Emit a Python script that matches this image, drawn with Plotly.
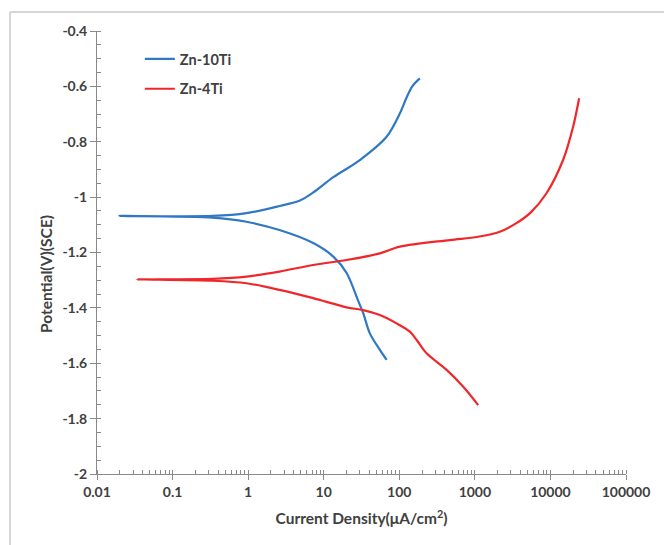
import plotly.graph_objects as go

# ---- data ----
zn10_current = [68, 55.4, 40.8, 33.3, 28.6, 20.1, 13.4, 7.26, 2.6, 0.95, 0.34, 0.0197,
                0.34, 0.95, 2.6, 4.84, 7.2, 13.4, 30.1, 67.9, 102, 125, 150, 187]
zn10_potential = [-1.588, -1.552, -1.492, -1.419, -1.375, -1.274, -1.215, -1.166, -1.119, -1.089, -1.074, -1.068,
                  -1.068, -1.058, -1.032, -1.012, -0.984, -0.928, -0.866, -0.782, -0.697, -0.640, -0.598, -0.571]

zn4_current = [1107, 702, 423, 230, 170, 138, 92, 55.4, 33.3, 20.1, 7.26, 2.6, 0.95, 0.34, 0.0335,
               0.34, 0.95, 2.6, 7.26, 20.1, 55.4, 102, 467, 1100, 2138, 3500, 5500, 8870, 14700, 19960, 23980]
zn4_potential = [-1.751, -1.685, -1.624, -1.564, -1.516, -1.486, -1.456, -1.426, -1.408, -1.398, -1.365, -1.335, -1.311, -1.302, -1.297,
                 -1.295, -1.287, -1.269, -1.245, -1.227, -1.203, -1.179, -1.155, -1.143, -1.125, -1.095, -1.055, -0.986, -0.866, -0.746, -0.643]

series_names = ["Zn-10Ti", "Zn-4Ti"]
series_colors = ["#2F78C4", "#F0272A"]

x_tickvals = [0.01, 0.1, 1, 10, 100, 1000, 10000, 100000]
x_ticktext = ["0.01", "0.1", "1", "10", "100", "1000", "10000", "100000"]
y_tickvals = [-2, -1.8, -1.6, -1.4, -1.2, -1, -0.8, -0.6, -0.4]
y_ticktext = ["-2", "-1.8", "-1.6", "-1.4", "-1.2", "-1", "-0.8", "-0.6", "-0.4"]

x_title = "Current Density(μA/cm<sup>2</sup>)"
y_title = "Potential(V)(SCE)"

FONT = "Lato, 'Open Sans', sans-serif"
TXT = "#404040"
AX = "#8a8a8a"

fig = go.Figure()
for name, col, xs, ys in [
    (series_names[0], series_colors[0], zn10_current, zn10_potential),
    (series_names[1], series_colors[1], zn4_current, zn4_potential),
]:
    fig.add_trace(go.Scatter(x=xs, y=ys, mode="lines", name=name, legendgroup=name,
                             line=dict(color=col, width=2.2, shape="spline", smoothing=0.9)))

fig.update_layout(
    width=664, height=545,
    margin=dict(l=97, r=38, t=31, b=71),
    paper_bgcolor="white", plot_bgcolor="white",
    font=dict(family=FONT, color=TXT, size=14),
    showlegend=True,
    legend=dict(x=0.081, y=0.973, xanchor="left", yanchor="top", bgcolor="rgba(0,0,0,0)",
                font=dict(family=FONT, size=14.5, color=TXT, weight="bold"),
                tracegroupgap=8),
    xaxis=dict(type="log", range=[-2, 5], tickmode="array", tickvals=x_tickvals, ticktext=x_ticktext,
               showgrid=False, zeroline=False, showline=True, linecolor=AX, linewidth=1,
               ticks="outside", ticklen=5, tickcolor=AX,
               tickfont=dict(family=FONT, size=14, color=TXT, weight="bold"),
               minor=dict(dtick="D1", ticks="inside", ticklen=4, tickcolor=AX, showgrid=False),
               title=dict(text=x_title, standoff=14,
                          font=dict(family=FONT, size=15.5, color=TXT, weight="bold"))),
    xaxis2=dict(type="log", range=[-2, 5], overlaying="x", tickmode="array", tickvals=x_tickvals,
                showticklabels=False, showgrid=False, zeroline=False, showline=False,
                ticks="inside", ticklen=4, tickcolor=AX),
    yaxis=dict(range=[-2, -0.4], tickmode="array", tickvals=y_tickvals, ticktext=y_ticktext,
               showgrid=False, zeroline=False, showline=True, linecolor=AX, linewidth=1,
               ticks="outside", ticklen=6, tickcolor=AX,
               tickfont=dict(family=FONT, size=14, color=TXT, weight="bold"),
               minor=dict(dtick=0.05, tick0=-2, ticks="inside", ticklen=4, tickcolor=AX, showgrid=False)),
    yaxis2=dict(range=[-2, -0.4], overlaying="y", tickmode="array", tickvals=y_tickvals,
                showticklabels=False, showgrid=False, zeroline=False, showline=False,
                ticks="inside", ticklen=4, tickcolor=AX),
)

# invisible trace so the overlay tick axes are drawn
fig.add_trace(go.Scatter(x=[None], y=[None], xaxis="x2", yaxis="y2", showlegend=False, hoverinfo="skip"))

# y-axis title (placed slightly below centre as in the reference)
fig.add_annotation(text=y_title, xref="paper", yref="paper", x=-0.0964, y=0.4515,
                   textangle=-90, showarrow=False, xanchor="center", yanchor="middle",
                   font=dict(family=FONT, size=15.5, color=TXT, weight="bold"))

# light outer frame (top and left edges visible in the reference)
fig.add_shape(type="line", xref="paper", yref="paper", x0=-0.1645, x1=1.2, y0=1.0429, y1=1.0429,
              line=dict(color="#d6d6d6", width=2))
fig.add_shape(type="line", xref="paper", yref="paper", x0=-0.1645, x1=-0.1645, y0=-0.2, y1=1.0429,
              line=dict(color="#d6d6d6", width=2))

fig.write_html("out.html")
